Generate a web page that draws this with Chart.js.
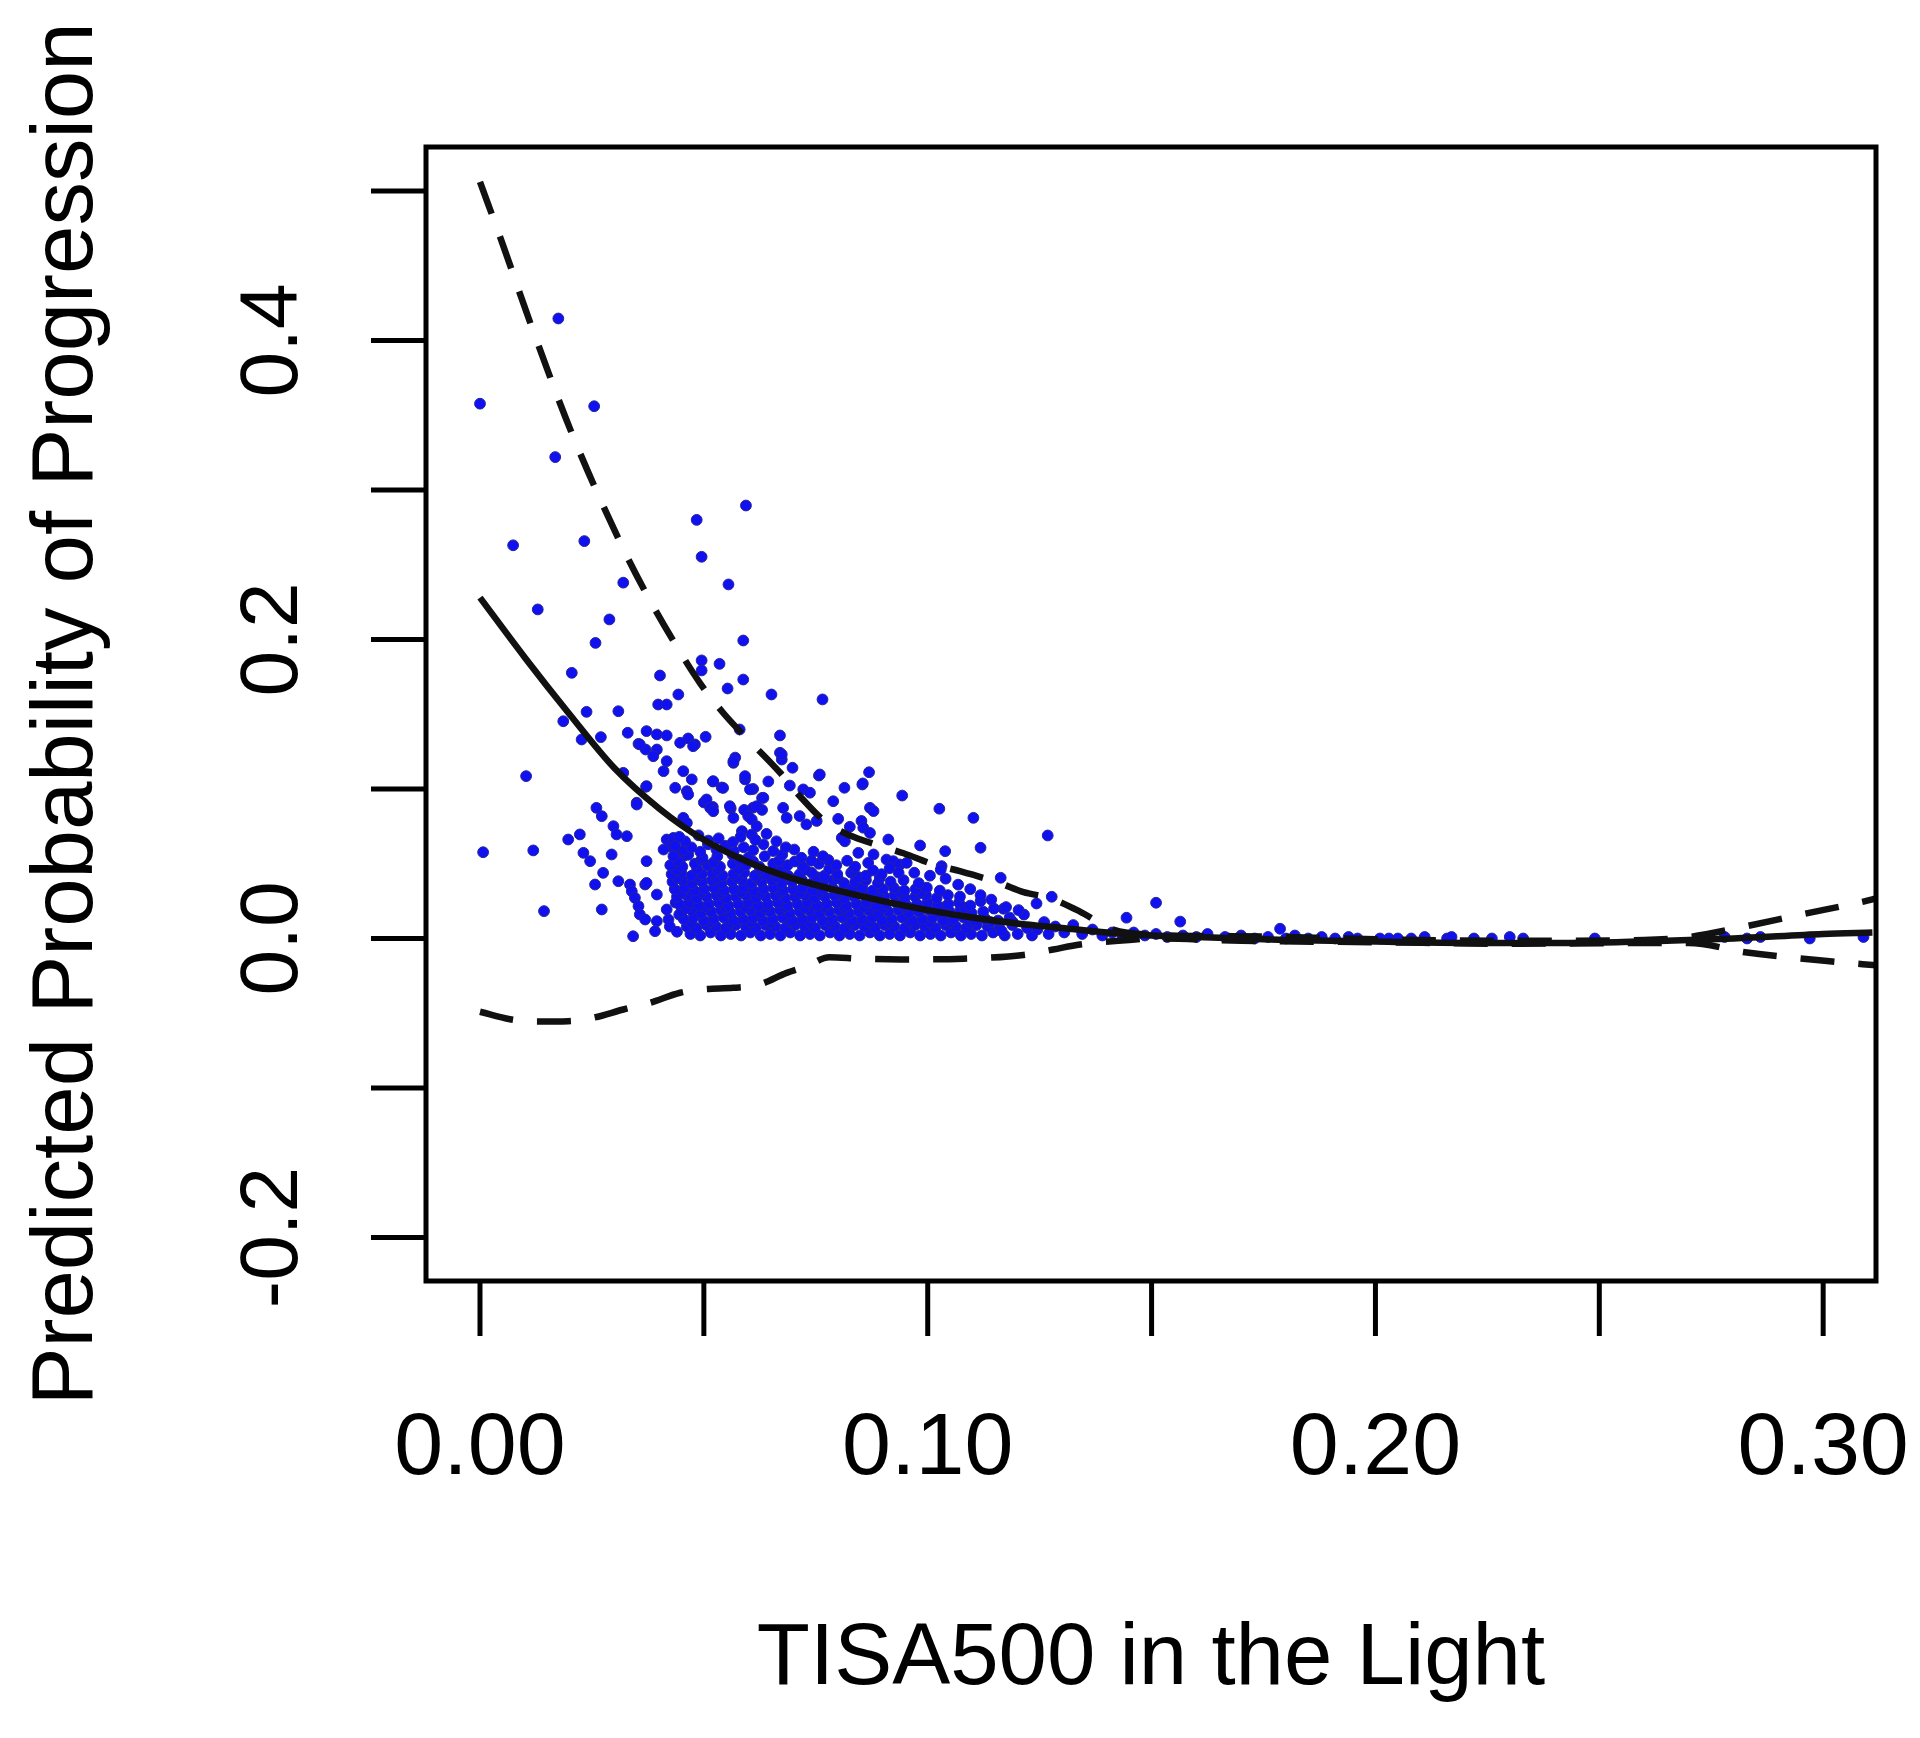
<!DOCTYPE html>
<html>
<head>
<meta charset="utf-8">
<script src="https://cdn.jsdelivr.net/npm/chart.js@4.4.1/dist/chart.umd.min.js"></script>
<style>
    html, body { margin: 0; padding: 0; background: #ffffff; }
    #wrap { width: 1920px; height: 1738px; }
</style>
</head>
<body>
<div id="wrap"><canvas id="chart"></canvas></div>
<script>
// axis ticks (R style: labels only where they fit)
const xTicks = [0, 0.05, 0.10, 0.15, 0.20, 0.25, 0.30];
const xTickLabels = ['0.00', '', '0.10', '', '0.20', '', '0.30'];
const yTicks = [-0.2, -0.1, 0.0, 0.1, 0.2, 0.3, 0.4, 0.5];
const yTickLabels = ['-0.2', '', '0.0', '', '0.2', '', '0.4', ''];

// fitted curve
const fitX = [0, 0.01, 0.02, 0.03, 0.04, 0.05, 0.06, 0.07, 0.08, 0.09, 0.10, 0.11, 0.12, 0.13, 0.14, 0.15, 0.16, 0.18, 0.20, 0.22, 0.24, 0.26, 0.28, 0.30, 0.311];
const fitY = [0.228, 0.188, 0.150, 0.114, 0.087, 0.066, 0.051, 0.040, 0.032, 0.025, 0.019, 0.014, 0.010, 0.007, 0.004, 0.002, 0.001, -0.001, -0.002, -0.003, -0.003, -0.002, 0.000, 0.003, 0.004];

// upper confidence band
const upperX = [0, 0.005, 0.0112, 0.0205, 0.0313, 0.0369, 0.0432, 0.0491, 0.0543, 0.0573, 0.067, 0.0715, 0.0774, 0.0834, 0.0893, 0.0946, 0.1013, 0.1072, 0.1161, 0.1214, 0.1273, 0.134, 0.1414, 0.15, 0.17, 0.20, 0.23, 0.26, 0.27, 0.2815, 0.295, 0.309, 0.312];
const upperY = [0.506, 0.465, 0.412, 0.338, 0.265, 0.232, 0.199, 0.171, 0.151, 0.141, 0.111, 0.095, 0.0774, 0.068, 0.062, 0.057, 0.0495, 0.045, 0.037, 0.031, 0.027, 0.018, 0.006, 0.0025, 0.0015, -0.0005, -0.0015, -0.001, 0.001, 0.0074, 0.016, 0.0247, 0.027];

// lower confidence band
const lowerX = [0, 0.0067, 0.0123, 0.0197, 0.0253, 0.032, 0.038, 0.0447, 0.0499, 0.0566, 0.0622, 0.0685, 0.073, 0.078, 0.085, 0.094, 0.108, 0.1214, 0.128, 0.134, 0.145, 0.15, 0.17, 0.20, 0.23, 0.26, 0.27, 0.283, 0.302, 0.312];
const lowerY = [-0.049, -0.054, -0.0555, -0.0553, -0.053, -0.0475, -0.043, -0.0363, -0.034, -0.033, -0.031, -0.023, -0.0185, -0.0125, -0.0135, -0.014, -0.0135, -0.011, -0.0074, -0.004, -0.001, 0.0, -0.0015, -0.0025, -0.0035, -0.003, -0.003, -0.0094, -0.0154, -0.018];

// scattered individual predictions
const outlierPts = [
    [0.0175, 0.4147], [0.0, 0.3577], [0.0255, 0.356], [0.0168, 0.322], [0.0074, 0.263], [0.0233, 0.2658],
    [0.0484, 0.280], [0.0594, 0.2896], [0.0495, 0.2553], [0.0555, 0.2368], [0.032, 0.238], [0.0129, 0.2201],
    [0.0289, 0.2134], [0.0258, 0.1977], [0.0588, 0.1993], [0.0205, 0.1777], [0.0402, 0.1759], [0.0495, 0.186],
    [0.0535, 0.1837], [0.0495, 0.1793], [0.0588, 0.1732], [0.0553, 0.1672], [0.0443, 0.1632], [0.0398, 0.1565],
    [0.0417, 0.1565], [0.0238, 0.1516], [0.0309, 0.152], [0.0186, 0.1453], [0.0227, 0.1331], [0.027, 0.1347],
    [0.033, 0.1376], [0.0372, 0.1387], [0.0395, 0.1365], [0.0417, 0.1358], [0.0354, 0.1302], [0.0465, 0.1338],
    [0.048, 0.1298], [0.0504, 0.1349], [0.037, 0.1264], [0.0395, 0.1264], [0.057, 0.121], [0.058, 0.1398],
    [0.0651, 0.1632], [0.0765, 0.1599], [0.067, 0.1358], [0.0566, 0.1175], [0.067, 0.1242], [0.0674, 0.1197],
    [0.0698, 0.1142], [0.0757, 0.109], [0.0869, 0.1112], [0.0814, 0.1008], [0.0854, 0.103], [0.0943, 0.0956],
    [0.0103, 0.1086], [0.032, 0.1108], [0.0371, 0.1015], [0.052, 0.105], [0.054, 0.101], [0.035, 0.0908],
    [0.050, 0.091], [0.052, 0.088], [0.056, 0.087], [0.059, 0.086], [0.061, 0.0875], [0.063, 0.086],
    [0.061, 0.1], [0.063, 0.094], [0.0644, 0.105], [0.0592, 0.1064], [0.026, 0.0874], [0.0272, 0.0818],
    [0.0298, 0.0751], [0.0305, 0.0696], [0.0328, 0.0684], [0.0197, 0.0662], [0.0223, 0.0696], [0.0007, 0.0577],
    [0.0119, 0.0589], [0.0231, 0.0573], [0.0246, 0.0517], [0.0294, 0.0562], [0.0372, 0.0517], [0.0143, 0.0183],
    [0.0275, 0.0439], [0.0257, 0.0361], [0.0272, 0.0194], [0.0309, 0.0383], [0.0335, 0.0361], [0.0339, 0.0316],
    [0.0346, 0.0272], [0.0354, 0.0216], [0.0357, 0.0161], [0.0369, 0.0127], [0.0395, 0.0116], [0.0391, 0.0049],
    [0.0369, 0.0361], [0.0417, 0.0194], [0.0421, 0.0127], [0.0395, 0.0294], [0.0342, 0.0015], [0.0372, 0.0372],
    [0.0424, 0.008], [0.044, 0.0045], [0.0445, 0.016], [0.0437, 0.024],
    [0.035, 0.0896], [0.0372, 0.1019], [0.0387, 0.1219], [0.041, 0.1119], [0.0417, 0.1186], [0.0357, 0.1298],
    [0.0454, 0.1119], [0.0473, 0.1064], [0.0436, 0.1008], [0.0462, 0.0985], [0.0465, 0.0963], [0.0447, 0.1309],
    [0.0476, 0.1286], [0.0521, 0.1052], [0.0543, 0.1007], [0.0566, 0.1186], [0.0592, 0.1086], [0.0506, 0.093],
    [0.0514, 0.0874], [0.0521, 0.0851], [0.0558, 0.0885], [0.0603, 0.0997], [0.0618, 0.0885], [0.0599, 0.0818],
    [0.0607, 0.0796], [0.0566, 0.0807], [0.0585, 0.0718], [0.0607, 0.0696], [0.0618, 0.0751], [0.0454, 0.0807],
    [0.0462, 0.0773], [0.0417, 0.0662], [0.0424, 0.0617], [0.041, 0.0595], [0.0439, 0.0573], [0.0454, 0.055],
    [0.0432, 0.0673],
    [0.0674, 0.1231], [0.0759, 0.1097], [0.0855, 0.1037], [0.1026, 0.0868], [0.0692, 0.1023], [0.0722, 0.0997],
    [0.0737, 0.0975], [0.0633, 0.0941], [0.0789, 0.0918], [0.0871, 0.0874], [0.0879, 0.0852], [0.0677, 0.0874],
    [0.0685, 0.0807], [0.0714, 0.0819], [0.0729, 0.0763], [0.0752, 0.0786], [0.08, 0.080], [0.0826, 0.0747],
    [0.0852, 0.0786], [0.0856, 0.0741], [0.0871, 0.0706], [0.0808, 0.0673], [0.0815, 0.065], [0.0912, 0.0662],
    [0.0983, 0.0622], [0.1039, 0.0584], [0.0845, 0.0573], [0.0879, 0.0562], [0.0867, 0.0506], [0.0908, 0.0528],
    [0.0923, 0.0517], [0.0938, 0.0495], [0.0953, 0.0506], [0.1031, 0.0484],
    [0.1102, 0.0807], [0.1118, 0.0607], [0.1268, 0.0689], [0.1163, 0.0406], [0.1243, 0.0234], [0.1277, 0.0279],
    [0.1169, 0.0199], [0.151, 0.0239], [0.1444, 0.0139], [0.1564, 0.0113], [0.1787, 0.0065]
];

// the dense core of the cloud, row by row from the bottom
const clusterPts = [
    [0.047, 0.003], [0.0492, 0.002], [0.0515, 0.004], [0.0538, 0.002], [0.056, 0.003], [0.0583, 0.002], [0.0604, 0.004],
    [0.0627, 0.002], [0.0648, 0.003], [0.0671, 0.002], [0.0693, 0.004], [0.0715, 0.002], [0.0737, 0.003], [0.0759, 0.002],
    [0.0782, 0.004], [0.0803, 0.002], [0.0826, 0.003], [0.0848, 0.002], [0.0871, 0.004], [0.0893, 0.002], [0.0915, 0.003],
    [0.0938, 0.002], [0.0961, 0.004], [0.0983, 0.002], [0.1006, 0.003], [0.1029, 0.002], [0.1052, 0.004], [0.1074, 0.002],
    [0.1097, 0.003], [0.1121, 0.002], [0.1146, 0.004], [0.1172, 0.002], [0.1201, 0.003], [0.1233, 0.002], [0.127, 0.003],

    [0.0462, 0.008], [0.0483, 0.007], [0.0505, 0.009], [0.0527, 0.008], [0.0549, 0.007], [0.0571, 0.009], [0.0594, 0.008],
    [0.0616, 0.007], [0.0638, 0.009], [0.066, 0.008], [0.0682, 0.007], [0.0704, 0.009], [0.0726, 0.008], [0.0748, 0.007],
    [0.0771, 0.009], [0.0793, 0.008], [0.0815, 0.007], [0.0837, 0.009], [0.0859, 0.008], [0.0882, 0.007], [0.0904, 0.009],
    [0.0926, 0.008], [0.0949, 0.007], [0.0972, 0.009], [0.0994, 0.008], [0.1017, 0.007], [0.104, 0.009], [0.1063, 0.008],
    [0.1086, 0.007], [0.1109, 0.009], [0.1134, 0.008], [0.116, 0.007], [0.1189, 0.009], [0.1222, 0.007],

    [0.0472, 0.0105], [0.0516, 0.011], [0.056, 0.0105], [0.0605, 0.011], [0.0649, 0.0105], [0.0693, 0.011], [0.0737, 0.0105],
    [0.0782, 0.011], [0.0826, 0.0105], [0.087, 0.011], [0.0915, 0.0105], [0.096, 0.011], [0.1005, 0.0105], [0.105, 0.011],
    [0.1095, 0.0105], [0.114, 0.011],

    [0.0455, 0.013], [0.0477, 0.014], [0.05, 0.012], [0.0522, 0.013], [0.0544, 0.014], [0.0566, 0.012], [0.0588, 0.013],
    [0.061, 0.014], [0.0632, 0.012], [0.0654, 0.013], [0.0676, 0.014], [0.0698, 0.012], [0.072, 0.013], [0.0742, 0.014],
    [0.0765, 0.012], [0.0787, 0.013], [0.0809, 0.014], [0.0831, 0.012], [0.0853, 0.013], [0.0876, 0.014], [0.0898, 0.012],
    [0.092, 0.013], [0.0943, 0.014], [0.0966, 0.012], [0.0988, 0.013], [0.1011, 0.014], [0.1034, 0.012], [0.1057, 0.013],
    [0.108, 0.014], [0.1104, 0.012], [0.1129, 0.013], [0.1157, 0.012], [0.1183, 0.014],

    [0.045, 0.018], [0.0472, 0.019], [0.0494, 0.017], [0.0516, 0.018], [0.0538, 0.019], [0.056, 0.017], [0.0582, 0.018],
    [0.0604, 0.019], [0.0626, 0.017], [0.0648, 0.018], [0.067, 0.019], [0.0692, 0.017], [0.0714, 0.018], [0.0736, 0.019],
    [0.0758, 0.017], [0.078, 0.018], [0.0802, 0.019], [0.0824, 0.017], [0.0846, 0.018], [0.0868, 0.019], [0.089, 0.017],
    [0.0912, 0.018], [0.0935, 0.019], [0.0958, 0.017], [0.098, 0.018], [0.1003, 0.019], [0.1026, 0.017], [0.1049, 0.018],
    [0.1073, 0.019], [0.1098, 0.017], [0.1124, 0.018], [0.1148, 0.02],

    [0.0461, 0.0205], [0.0505, 0.021], [0.0549, 0.0205], [0.0593, 0.021], [0.0637, 0.0205], [0.0681, 0.021], [0.0725, 0.0205],
    [0.077, 0.021], [0.0814, 0.0205], [0.0858, 0.021], [0.0902, 0.0205], [0.0947, 0.021], [0.0992, 0.0205], [0.1037, 0.021],
    [0.1083, 0.0205],

    [0.0445, 0.023], [0.0467, 0.024], [0.0489, 0.022], [0.0511, 0.023], [0.0533, 0.024], [0.0555, 0.022], [0.0577, 0.023],
    [0.0599, 0.024], [0.0621, 0.022], [0.0643, 0.023], [0.0665, 0.024], [0.0687, 0.022], [0.0709, 0.023], [0.0731, 0.024],
    [0.0753, 0.022], [0.0775, 0.023], [0.0797, 0.024], [0.0819, 0.022], [0.0841, 0.023], [0.0863, 0.024], [0.0885, 0.022],
    [0.0907, 0.023], [0.093, 0.024], [0.0953, 0.022], [0.0976, 0.023], [0.0999, 0.024], [0.1022, 0.022], [0.1046, 0.023],
    [0.107, 0.024], [0.1095, 0.022], [0.1118, 0.025],

    [0.044, 0.028], [0.0462, 0.029], [0.0484, 0.027], [0.0506, 0.028], [0.0528, 0.029], [0.055, 0.027], [0.0572, 0.028],
    [0.0594, 0.029], [0.0616, 0.027], [0.0638, 0.028], [0.066, 0.029], [0.0682, 0.027], [0.0704, 0.028], [0.0726, 0.029],
    [0.0748, 0.027], [0.077, 0.028], [0.0792, 0.029], [0.0814, 0.027], [0.0836, 0.028], [0.0858, 0.029], [0.088, 0.027],
    [0.0903, 0.028], [0.0926, 0.029], [0.0949, 0.027], [0.0972, 0.028], [0.0996, 0.029], [0.102, 0.027], [0.1045, 0.029],
    [0.1072, 0.028],

    [0.0451, 0.0305], [0.0495, 0.031], [0.0539, 0.0305], [0.0583, 0.031], [0.0627, 0.0305], [0.0671, 0.031], [0.0715, 0.0305],
    [0.0759, 0.031], [0.0803, 0.0305], [0.0847, 0.031], [0.0892, 0.0305], [0.0937, 0.031], [0.0984, 0.0305],

    [0.0435, 0.033], [0.0457, 0.034], [0.0479, 0.032], [0.0501, 0.033], [0.0523, 0.034], [0.0545, 0.032], [0.0567, 0.033],
    [0.0589, 0.034], [0.0611, 0.032], [0.0633, 0.033], [0.0655, 0.034], [0.0677, 0.032], [0.0699, 0.033], [0.0721, 0.034],
    [0.0743, 0.032], [0.0765, 0.033], [0.0787, 0.034], [0.0809, 0.032], [0.0831, 0.033], [0.0854, 0.034], [0.0877, 0.032],
    [0.09, 0.033], [0.0924, 0.034], [0.0948, 0.032], [0.0973, 0.033], [0.0998, 0.034], [0.1027, 0.032],

    [0.043, 0.038], [0.0452, 0.039], [0.0474, 0.037], [0.0496, 0.038], [0.0518, 0.039], [0.054, 0.037], [0.0563, 0.038],
    [0.0585, 0.039], [0.0607, 0.037], [0.0629, 0.038], [0.0652, 0.039], [0.0674, 0.037], [0.0697, 0.038], [0.0719, 0.039],
    [0.0742, 0.037], [0.0766, 0.038], [0.0789, 0.039], [0.0813, 0.037], [0.0838, 0.038], [0.0862, 0.039], [0.0889, 0.037],
    [0.0917, 0.038], [0.0946, 0.039], [0.098, 0.037],

    [0.0441, 0.0405], [0.0485, 0.041], [0.0529, 0.0405], [0.0574, 0.041], [0.0618, 0.0405], [0.0663, 0.041], [0.0708, 0.0405],
    [0.0753, 0.041], [0.0799, 0.0405], [0.0846, 0.041], [0.0893, 0.0405],

    [0.0428, 0.043], [0.045, 0.044], [0.0473, 0.042], [0.0496, 0.043], [0.0519, 0.044], [0.0542, 0.042], [0.0566, 0.043],
    [0.059, 0.044], [0.0614, 0.042], [0.0638, 0.043], [0.0663, 0.044], [0.0688, 0.042], [0.0714, 0.043], [0.0741, 0.044],
    [0.0769, 0.042], [0.0798, 0.043], [0.0829, 0.044], [0.0862, 0.042], [0.0897, 0.043], [0.0935, 0.044],

    [0.0439, 0.046], [0.0485, 0.0465], [0.0531, 0.046], [0.0578, 0.0465], [0.0626, 0.046], [0.0675, 0.0465], [0.0727, 0.046],
    [0.078, 0.0465], [0.0835, 0.046], [0.0878, 0.0455], [0.0915, 0.047],

    [0.0425, 0.049], [0.0452, 0.048], [0.048, 0.05], [0.0508, 0.049], [0.0536, 0.048], [0.0565, 0.05], [0.0594, 0.049],
    [0.0624, 0.048], [0.0655, 0.05], [0.0687, 0.049], [0.0721, 0.048], [0.0757, 0.05], [0.0796, 0.049], [0.0838, 0.048],

    [0.0441, 0.052], [0.0494, 0.0525], [0.0522, 0.051], [0.058, 0.0525], [0.061, 0.0515], [0.0668, 0.052], [0.0703, 0.0515],
    [0.074, 0.052], [0.0778, 0.0525], [0.082, 0.052],

    [0.0432, 0.055], [0.0465, 0.056], [0.0497, 0.054], [0.053, 0.055], [0.0564, 0.056], [0.0599, 0.054], [0.0636, 0.055],
    [0.0675, 0.056], [0.0718, 0.054], [0.0766, 0.055],

    [0.0455, 0.059], [0.0492, 0.058], [0.0528, 0.0595], [0.0567, 0.0585], [0.061, 0.059], [0.0655, 0.0585], [0.0702, 0.0595],
    [0.0745, 0.058],

    [0.0436, 0.062], [0.0472, 0.061], [0.0509, 0.063], [0.0548, 0.062], [0.0589, 0.061], [0.0633, 0.063], [0.0683, 0.061],

    [0.0458, 0.065], [0.051, 0.0655], [0.0565, 0.0645], [0.0615, 0.066], [0.0662, 0.065],

    [0.0445, 0.068], [0.0488, 0.069], [0.0533, 0.067], [0.0582, 0.068], [0.064, 0.07],

    [0.1165, 0.005], [0.119, 0.011], [0.1215, 0.016], [0.1245, 0.006], [0.126, 0.011], [0.1285, 0.008], [0.1305, 0.004],
    [0.1325, 0.009], [0.1345, 0.003], [0.1368, 0.006], [0.139, 0.002], [0.1412, 0.004], [0.1435, 0.002], [0.1118, 0.029],
    [0.1142, 0.026], [0.1095, 0.033], [0.1068, 0.036], [0.1175, 0.021], [0.1203, 0.019], [0.104, 0.04], [0.1005, 0.042],
    [0.097, 0.044], [0.1029, 0.046]
];

// the thin tail along zero
const tailPts = [
    [0.146, 0.004], [0.1485, 0.002], [0.151, 0.003], [0.1535, 0.001], [0.157, 0.002], [0.16, 0.001], [0.1625, 0.003],
    [0.1664, 0.001], [0.17, 0.002], [0.173, 0.0], [0.176, 0.001], [0.18, 0.0], [0.182, 0.002], [0.185, 0.0],
    [0.188, 0.001], [0.191, 0.0], [0.194, 0.001], [0.196, 0.0], [0.201, 0.0], [0.203, 0.0], [0.205, 0.0],
    [0.208, 0.0], [0.211, 0.001], [0.216, 0.0], [0.217, 0.001], [0.222, 0.0], [0.226, 0.0], [0.23, 0.001],
    [0.233, 0.0], [0.249, 0.0], [0.274, 0.0], [0.278, 0.001], [0.283, 0.0], [0.286, 0.001], [0.297, 0.0], [0.309, 0.001]
];

document.addEventListener('DOMContentLoaded', function() {
    const FONT = '"Liberation Sans", Arial, Helvetica, sans-serif';

    function toXY(xs, ys) {
        return xs.map((x, i) => ({ x: x, y: ys[i] }));
    }

    const scatterData = outlierPts.concat(clusterPts, tailPts).map(p => ({ x: p[0], y: p[1] }));

    // draws the R-like frame, ticks and labels from the chart's scales
    const rAxes = {
        id: 'rAxes',
        afterDraw(chart) {
            const ctx = chart.ctx;
            const area = chart.chartArea;
            const sx = chart.scales.x;
            const sy = chart.scales.y;
            const tickLen = 55;

            ctx.save();
            ctx.strokeStyle = '#000';
            ctx.lineWidth = 5;
            ctx.lineCap = 'butt';
            ctx.strokeRect(area.left, area.top, area.right - area.left, area.bottom - area.top);

            ctx.fillStyle = '#000';
            // x axis
            ctx.font = '88px ' + FONT;
            ctx.textAlign = 'center';
            ctx.textBaseline = 'alphabetic';
            xTicks.forEach((v, i) => {
                const px = sx.getPixelForValue(v);
                ctx.beginPath();
                ctx.moveTo(px, area.bottom);
                ctx.lineTo(px, area.bottom + tickLen);
                ctx.stroke();
                if (xTickLabels[i]) ctx.fillText(xTickLabels[i], px, 1474);
            });

            // y axis
            ctx.font = '82px ' + FONT;
            yTicks.forEach((v, i) => {
                const py = sy.getPixelForValue(v);
                ctx.beginPath();
                ctx.moveTo(area.left, py);
                ctx.lineTo(area.left - tickLen, py);
                ctx.stroke();
                if (yTickLabels[i]) {
                    ctx.save();
                    ctx.translate(297, py);
                    ctx.rotate(-Math.PI / 2);
                    ctx.fillText(yTickLabels[i], 0, 0);
                    ctx.restore();
                }
            });

            // titles
            ctx.font = '87px ' + FONT;
            ctx.fillText('TISA500 in the Light', (area.left + area.right) / 2, 1684);
            ctx.save();
            ctx.translate(92, (area.top + area.bottom) / 2);
            ctx.rotate(-Math.PI / 2);
            ctx.fillText('Predicted Probability of Progression', 0, 0);
            ctx.restore();
            ctx.restore();
        }
    };

    const lineStyle = {
        type: 'line',
        showLine: true,
        pointRadius: 0,
        borderColor: '#111',
        borderWidth: 6.5,
        cubicInterpolationMode: 'monotone',
        fill: false,
        order: 1
    };

    new Chart(document.getElementById('chart'), {
        type: 'scatter',
        data: {
            datasets: [
                {
                    label: 'Predicted',
                    data: scatterData,
                    pointStyle: 'circle',
                    pointBackgroundColor: '#1010f0',
                    pointBorderColor: '#24249c',
                    pointBorderWidth: 1,
                    pointRadius: 5.4,
                    order: 2
                },
                Object.assign({ label: 'Fit', data: toXY(fitX, fitY) }, lineStyle),
                Object.assign({ label: 'Upper', data: toXY(upperX, upperY), borderDash: [34, 24] }, lineStyle),
                Object.assign({ label: 'Lower', data: toXY(lowerX, lowerY), borderDash: [34, 24] }, lineStyle)
            ]
        },
        options: {
            responsive: true,
            maintainAspectRatio: false,
            animation: false,
            devicePixelRatio: 1,
            layout: { padding: { left: 426, right: 44, top: 147, bottom: 457 } },
            scales: {
                x: { type: 'linear', min: -0.01206, max: 0.3118, display: false },
                y: { type: 'linear', min: -0.2291, max: 0.5294, display: false }
            },
            plugins: {
                legend: { display: false },
                tooltip: { enabled: false }
            }
        },
        plugins: [rAxes]
    });
});
</script>
</body>
</html>
